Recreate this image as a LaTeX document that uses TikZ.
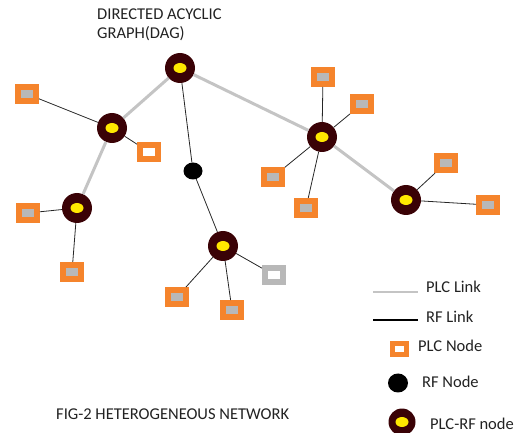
\documentclass[tikz,border=0pt]{standalone}
\usepackage{fontspec}
\setmainfont{Carlito}
\usetikzlibrary{shapes.geometric}
\definecolor{maroon}{HTML}{3A0206}
\definecolor{yel}{HTML}{FFE800}
\definecolor{plcorange}{HTML}{F5842C}
\definecolor{plcgray}{HTML}{B8B8B8}
\definecolor{linkgray}{HTML}{C4C4C4}
\definecolor{txt}{HTML}{222222}
\tikzset{
  plcrf/.style={circle, fill=maroon, minimum size=30pt, inner sep=0pt,
    path picture={\fill[yel] (path picture bounding box.center) ellipse (6.5pt and 5pt);}},
  plcnode/.style={rectangle, fill=plcgray, draw=plcorange, line width=6pt, minimum width=18pt, minimum height=14pt, inner sep=0pt},
  plcwhite/.style={plcnode, fill=white},
  plcgraybox/.style={plcnode, fill=white, draw=plcgray},
  rfnode/.style={ellipse, fill=black, minimum width=19pt, minimum height=17pt, inner sep=0pt},
  plclink/.style={draw=linkgray, line width=3pt},
  rflink/.style={draw=black!85, line width=0.8pt},
  lbl/.style={font=\fontsize{16.5}{19}\selectfont, text=txt, inner sep=0pt}
}
\begin{document}
\begin{tikzpicture}[x=1pt,y=-1pt]
\useasboundingbox (0,0) rectangle (515,433);
% nodes
\node[plcrf] (R) at (180,68) {};
\node[plcrf] (A) at (112,128) {};
\node[plcrf] (B) at (77,208) {};
\node[rfnode] (RF) at (193,171) {};
\node[plcrf] (C) at (223,246) {};
\node[plcrf] (D) at (322,137) {};
\node[plcrf] (E) at (406,200) {};
\node[plcnode] (s1) at (27,94) {};
\node[plcwhite] (s2) at (149,152) {};
\node[plcnode] (s3) at (28,213) {};
\node[plcnode] (s4) at (72,272) {};
\node[plcnode] (s5) at (323,77) {};
\node[plcnode] (s6) at (362,104) {};
\node[plcnode] (s7) at (273,177) {};
\node[plcnode] (s8) at (306,208) {};
\node[plcnode] (s9) at (446,163) {};
\node[plcnode] (s10) at (488,205) {};
\node[plcnode] (s11) at (177,297) {};
\node[plcnode] (s12) at (232,310) {};
\node[plcgraybox] (s13) at (274,275) {};
% links
\draw[plclink] (R) -- (A);
\draw[plclink] (A) -- (B);
\draw[plclink] (R) -- (D);
\draw[plclink] (D) -- (E);
\draw[rflink] (R) -- (RF);
\draw[rflink] (RF) -- (C);
\draw[rflink] (A) -- (s1);
\draw[rflink] (A) -- (s2);
\draw[rflink] (B) -- (s3);
\draw[rflink] (B) -- (s4);
\draw[rflink] (D) -- (s5);
\draw[rflink] (D) -- (s6);
\draw[rflink] (D) -- (s7);
\draw[rflink] (D) -- (s8);
\draw[rflink] (E) -- (s9);
\draw[rflink] (E) -- (s10);
\draw[rflink] (C) -- (s11);
\draw[rflink] (C) -- (s12);
\draw[rflink] (C) -- (s13);
% title
\node[lbl, anchor=north west, align=left] (title) at (97,9) {DIRECTED ACYCLIC\\GRAPH(DAG)};
\node[lbl, anchor=west] (fig) at (56,414) {FIG-2 HETEROGENEOUS NETWORK};
% legend
\coordinate (l1a) at (373,292); \coordinate (l1b) at (418,292);
\draw[plclink, line width=2.5pt] (l1a) -- (l1b);
\node[lbl, anchor=west] (t1) at (426,287) {PLC Link};
\coordinate (l2a) at (373,320); \coordinate (l2b) at (418,320);
\draw[draw=black, line width=2pt] (l2a) -- (l2b);
\node[lbl, anchor=west] (t2) at (426,317) {RF Link};
\node[plcwhite, line width=5pt, minimum width=14pt, minimum height=11pt] (lp) at (399,349) {};
\node[lbl, anchor=west] (t3) at (418,346) {PLC Node};
\node[rfnode, minimum width=20pt, minimum height=19pt] (lr) at (398,383) {};
\node[lbl, anchor=west] (t4) at (422,382) {RF Node};
\node[plcrf, minimum size=27pt] (lc) at (402,422) {};
\node[lbl, anchor=west] (t5) at (430,424) {PLC-RF node};
\end{tikzpicture}
\end{document}
